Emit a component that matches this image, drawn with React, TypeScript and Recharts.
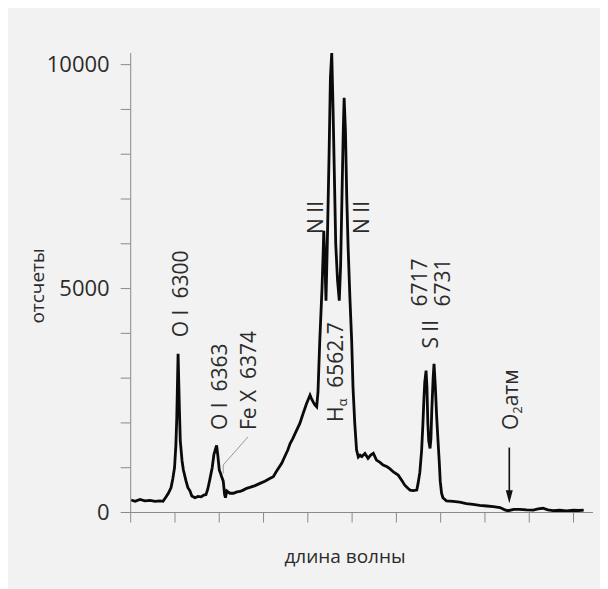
import React from 'react';
import { Line, LineChart, ReferenceDot, ReferenceLine, XAxis, YAxis } from 'recharts';

// positions along the wavelength axis, in tick units (11 ticks, unlabeled)
const POS = [
  0.01, 0.1, 0.21, 0.32, 0.44, 0.55, 0.66, 0.73, 0.8, 0.85, 0.91, 0.95, 0.99, 1.02, 1.04, 1.07,
  1.1, 1.12, 1.16, 1.19, 1.25, 1.29, 1.34, 1.38, 1.45, 1.52, 1.59, 1.65, 1.7, 1.74, 1.79, 1.84,
  1.88, 1.94, 1.97, 2.0, 2.03, 2.06, 2.09, 2.12, 2.14, 2.17, 2.24, 2.32, 2.4, 2.47, 2.54, 2.62,
  2.69, 2.81, 2.92, 3.03, 3.14, 3.22, 3.3, 3.41, 3.48, 3.55, 3.6, 3.66, 3.73, 3.82, 3.89, 3.97,
  4.0, 4.05, 4.08, 4.12, 4.16, 4.2, 4.23, 4.27, 4.32, 4.35, 4.36, 4.39, 4.41, 4.44, 4.48, 4.51,
  4.54, 4.57, 4.6, 4.63, 4.67, 4.71, 4.74, 4.77, 4.8, 4.82, 4.85, 4.88, 4.91, 4.95, 4.99, 5.02,
  5.06, 5.1, 5.14, 5.18, 5.22, 5.29, 5.36, 5.42, 5.48, 5.55, 5.63, 5.7, 5.79, 5.85, 5.94, 6.04,
  6.12, 6.19, 6.26, 6.31, 6.38, 6.46, 6.49, 6.53, 6.57, 6.6, 6.62, 6.64, 6.67, 6.69, 6.71, 6.73,
  6.76, 6.78, 6.8, 6.83, 6.85, 6.88, 6.91, 6.94, 6.97, 6.99, 7.02, 7.05, 7.13, 7.28, 7.43, 7.58,
  7.73, 7.88, 8.04, 8.19, 8.34, 8.45, 8.52, 8.65, 8.79, 8.94, 9.09, 9.2, 9.31, 9.42, 9.54, 9.69,
  9.84, 10.0, 10.12, 10.23,
];

const COUNTS = [
  280, 250, 290, 260, 270, 250, 260, 250, 350, 430, 550, 750, 1000, 1500, 2100, 3545,
  2300, 1600, 1150, 950, 700, 560, 480, 370, 330, 360, 350, 390, 400, 520, 750, 1000,
  1300, 1500, 1250, 950, 870, 780, 700, 400, 330, 480, 430, 430, 460, 470, 500, 540,
  560, 600, 650, 700, 760, 800, 930, 1100, 1250, 1400, 1540, 1650, 1800, 1990, 2200, 2430,
  2500, 2620, 2550, 2470, 2400, 2360, 2700, 3840, 5000, 5920, 6290, 5500, 4730, 6000, 8000, 9700,
  10260, 9000, 7500, 6000, 5200, 4730, 5500, 7000, 8500, 9260, 8500, 7000, 5920, 4800, 3840, 2800,
  1990, 1400, 1240, 1280, 1250, 1320, 1210, 1280, 1320, 1170, 1120, 1060, 1020, 980, 900, 835,
  720, 610, 540, 500, 490, 500, 650, 900, 1390, 2000, 2500, 2900, 3170, 2800, 2000, 1600,
  1430, 1650, 2300, 3000, 3320, 2800, 2130, 1600, 1100, 700, 430, 330, 260, 250, 230, 200,
  180, 160, 145, 130, 110, 60, 40, 70, 70, 60, 55, 80, 95, 60, 40, 50,
  35, 50, 45, 55,
];

const X_TICKS = [0, 1, 2, 3, 4, 5, 6, 7, 8, 9, 10];
const Y_TICKS = [0, 1000, 2000, 3000, 4000, 5000, 6000, 7000, 8000, 9000, 10000];

// line annotations: anchor = start of the rotated text (bottom end)
const LABEL_POS = [1.11, 1.99, 2.65, 4.16, 5.2, 4.61, 6.76, 6.52, 7.02, 8.56];
const LABEL_COUNT = [3915, 1840, 1840, 6220, 6220, 2020, 3660, 4600, 4600, 1840];
const LABEL_TEXT: { main: string; sub?: string; rest?: string }[] = [
  { main: 'O\u00a0I\u00a0\u00a06300' },
  { main: 'O\u00a0I\u00a0\u00a06363' },
  { main: 'Fe\u00a0X\u00a0\u00a06374' },
  { main: 'N\u00a0II' },
  { main: 'N\u00a0II' },
  { main: 'H', sub: 'α', rest: '\u00a0\u00a06562.7' },
  { main: 'S\u00a0II' },
  { main: '6717' },
  { main: '6731' },
  { main: 'O', sub: '2', rest: 'атм' },
];

const data = POS.map((x, i) => ({ x, y: COUNTS[i] }));

const FONT = '"Open Sans", "Noto Sans", sans-serif';
const AXIS = '#8a8a8a';
const TEXT = '#2b2b2b';

function VText({ cx, cy, item }: any) {
  if (cx == null || cy == null) return null;
  return (
    <text
      x={cx}
      y={cy}
      transform={`rotate(-90 ${cx} ${cy})`}
      fontFamily={FONT}
      fontSize={21}
      fill={TEXT}
      dominantBaseline="central"
    >
      {item.main}
      {item.sub && (
        <tspan fontSize={13} dy={7}>
          {item.sub}
        </tspan>
      )}
      {item.rest && <tspan dy={item.sub ? -7 : 0}>{item.rest}</tspan>}
    </text>
  );
}

function Arrow({ x1, y1, x2, y2 }: any) {
  if (x1 == null) return null;
  return (
    <g>
      <line x1={x1} y1={y1} x2={x2} y2={y2 - 10} stroke="#111" strokeWidth={1.6} />
      <polygon points={`${x2 - 3.5},${y2 - 13} ${x2 + 3.5},${y2 - 13} ${x2},${y2}`} fill="#111" />
    </g>
  );
}

export default function App() {
  return (
    <div style={{ width: 600, height: 581, background: '#f2f2f2' }}>
      <LineChart width={600} height={581} data={data} margin={{ top: 45, right: 15, bottom: 0, left: 0 }}>
        <XAxis
          dataKey="x"
          type="number"
          domain={[0, 10.44]}
          ticks={X_TICKS}
          tickFormatter={() => ''}
          tickSize={10}
          height={76.5}
          stroke={AXIS}
          tickLine={{ stroke: AXIS }}
          label={{
            content: () => (
              <text x={337} y={548} textAnchor="middle" dominantBaseline="central" fontFamily={FONT} fontSize={19} fill={TEXT}>
                длина волны
              </text>
            ),
          }}
        />
        <YAxis
          type="number"
          domain={[0, 10230]}
          ticks={Y_TICKS}
          tickFormatter={(v: number) => (v % 5000 === 0 ? String(v) : '')}
          tickSize={10}
          tickMargin={11}
          width={122.7}
          stroke={AXIS}
          tick={{ fill: TEXT, fontSize: 22, fontFamily: FONT }}
          label={{
            content: () => (
              <text
                x={28.5}
                y={278}
                transform="rotate(-90 28.5 278)"
                textAnchor="middle"
                dominantBaseline="central"
                fontFamily={FONT}
                fontSize={19}
                fill={TEXT}
              >
                отсчеты
              </text>
            ),
          }}
        />
        <Line
          dataKey="y"
          type="linear"
          stroke="#0a0a0a"
          strokeWidth={2.8}
          dot={false}
          isAnimationActive={false}
        />
        <ReferenceLine segment={[{ x: 2.65, y: 1690 }, { x: 2.09, y: 1060 }]} stroke="#999" strokeWidth={1} />
        <ReferenceLine segment={[{ x: 2.09, y: 1060 }, { x: 2.09, y: 870 }]} stroke="#999" strokeWidth={1} />
        <ReferenceLine segment={[{ x: 8.55, y: 1450 }, { x: 8.55, y: 205 }]} shape={(p: any) => <Arrow {...p} />} />
        {LABEL_POS.map((x, i) => (
          <ReferenceDot
            key={i}
            x={x}
            y={LABEL_COUNT[i]}
            r={0}
            ifOverflow="visible"
            shape={(p: any) => <VText cx={p.cx} cy={p.cy} item={LABEL_TEXT[i]} />}
          />
        ))}
      </LineChart>
    </div>
  );
}
